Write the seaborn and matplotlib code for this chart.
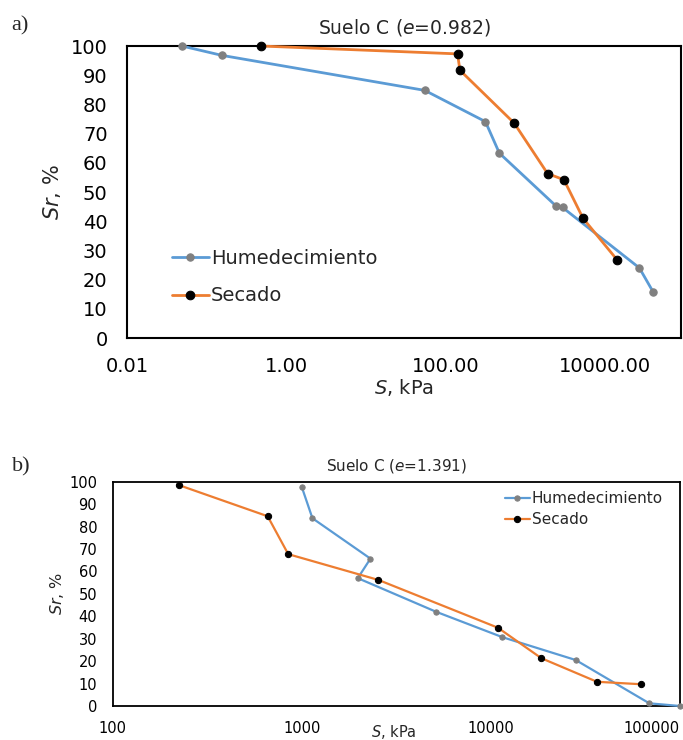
import numpy as np
import matplotlib
matplotlib.use("Agg")
import matplotlib.pyplot as plt
import matplotlib.ticker as mticker
import seaborn as sns

# ---------------- data ----------------
# Panel a) Suelo C (e=0.982)
hum_a_S = [0.049, 0.155, 55, 318, 476, 2450, 2960, 27300, 41000]
hum_a_Sr = [100, 96.8, 84.8, 74.1, 63.3, 45.2, 44.7, 24.0, 15.6]
sec_a_S = [0.48, 142, 152, 730, 1920, 3080, 5350, 14400]
sec_a_Sr = [100, 97.3, 91.7, 73.6, 56.3, 54.2, 41.0, 26.7]

# Panel b) Suelo C (e=1.391)
hum_b_S = [1000, 1140, 2310, 1980, 5140, 11500, 28100, 68800, 100000]
hum_b_Sr = [97.8, 83.7, 65.7, 57.0, 42.0, 30.7, 20.5, 1.2, 0]
sec_b_S = [224, 661, 849, 2545, 10900, 18500, 36400, 62300]
sec_b_Sr = [98.5, 84.6, 67.7, 56.2, 34.9, 21.3, 10.8, 9.7]

xt_a = [0.01, 1, 100, 10000]
xl_a = ["0.01", "1.00", "100.00", "10000.00"]
xt_b = [100, 1000, 10000, 100000]
xl_b = ["100", "1000", "10000", "100000"]
yt = [0, 10, 20, 30, 40, 50, 60, 70, 80, 90, 100]
yl = [str(v) for v in yt]

title_a = r"Suelo C ($\it{e}$=0.982)"
title_b = r"Suelo C ($\it{e}$=1.391)"
ylabel = r"$\it{Sr}$, %"
xlabel = r"$\it{S}$, kPa"
lab_h = "Humedecimiento"
lab_s = "Secado"

BLUE = "#5B9BD5"
ORANGE = "#ED7D31"
GRAY = "#808080"
BLACK = "#000000"

sns.set_style("white")
plt.rcParams["font.family"] = ["DejaVu Sans"]
plt.rcParams["mathtext.fontset"] = "dejavusans"

fig = plt.figure(figsize=(6.83, 7.4), dpi=100)
W, H = 683, 740


def axes_px(l, t, r, b):
    return fig.add_axes([l / W, 1 - b / H, (r - l) / W, (b - t) / H])


ax_a = axes_px(127, 46, 681, 338)
ax_b = axes_px(112.5, 481.7, 680, 706)


def style_axes(ax, xt, xl, xlim, fs, pad, lw_spine, maj_len, min_len):
    ax.set_xscale("log")
    ax.set_xlim(*xlim)
    ax.set_ylim(0, 100)
    ax.xaxis.set_major_locator(mticker.FixedLocator(xt))
    ax.xaxis.set_major_formatter(mticker.FixedFormatter(xl))
    ax.xaxis.set_minor_locator(mticker.LogLocator(base=10, subs=np.arange(1, 10), numticks=100))
    ax.xaxis.set_minor_formatter(mticker.NullFormatter())
    ax.yaxis.set_major_locator(mticker.FixedLocator(yt))
    ax.yaxis.set_major_formatter(mticker.FixedFormatter(yl))
    ax.yaxis.set_minor_locator(mticker.MultipleLocator(5))
    ax.tick_params(which="both", direction="in", color="black", width=lw_spine * 0.8)
    ax.tick_params(which="major", length=maj_len, labelsize=fs, pad=pad, labelcolor="black")
    ax.tick_params(which="minor", length=min_len)
    for s in ax.spines.values():
        s.set_visible(True)
        s.set_color("black")
        s.set_linewidth(lw_spine)
    ax.grid(False)
    ax.set_facecolor("white")


def draw(ax, hs, hy, ss, sy, lw, ms_h, ms_s):
    ax.set_xscale("log")
    sns.lineplot(x=hs, y=hy, ax=ax, sort=False, estimator=None, color=BLUE,
                 linewidth=lw, marker="o", markersize=ms_h, markerfacecolor=GRAY,
                 markeredgecolor=GRAY, label=lab_h, clip_on=False, zorder=3)
    sns.lineplot(x=ss, y=sy, ax=ax, sort=False, estimator=None, color=ORANGE,
                 linewidth=lw, marker="o", markersize=ms_s, markerfacecolor=BLACK,
                 markeredgecolor=BLACK, label=lab_s, clip_on=False, zorder=4)


# ---------------- panel a ----------------
draw(ax_a, hum_a_S, hum_a_Sr, sec_a_S, sec_a_Sr, 2.0, 5.3, 6.2)
style_axes(ax_a, xt_a, xl_a, (0.01, 9.1e4), 14, 14, 1.5, 6, 3.5)
ax_a.set_title(title_a, fontsize=13.5, pad=9)
ax_a.set_xlabel(xlabel, fontsize=14)
ax_a.xaxis.label.set_va("center")
ax_a.xaxis.set_label_coords(0.5, -0.171)
ax_a.set_ylabel(ylabel, fontsize=15)
ax_a.yaxis.label.set_va("center")
ax_a.yaxis.set_label_coords(-0.135, 0.5)
ax_a.legend(loc="upper left", bbox_to_anchor=(0.081, 0.305), frameon=False,
            fontsize=14, handlelength=1.9, handletextpad=0.1, labelspacing=0.95,
            borderpad=0, borderaxespad=0)

# ---------------- panel b ----------------
draw(ax_b, hum_b_S, hum_b_Sr, sec_b_S, sec_b_Sr, 1.6, 3.8, 4.5)
style_axes(ax_b, xt_b, xl_b, (100, 100000), 10.5, 11, 1.3, 4.5, 3)
ax_b.set_title(title_b, fontsize=11, pad=8)
ax_b.set_xlabel(xlabel, fontsize=10.5)
ax_b.xaxis.label.set_va("center")
ax_b.xaxis.set_label_coords(0.496, -0.117)
ax_b.set_ylabel(ylabel, fontsize=11.5)
ax_b.yaxis.label.set_va("center")
ax_b.yaxis.set_label_coords(-0.098, 0.5)
ax_b.legend(loc="upper left", bbox_to_anchor=(0.692, 0.958), frameon=False,
            fontsize=11, handlelength=1.6, handletextpad=0.15, labelspacing=0.4,
            borderpad=0, borderaxespad=0)
for t in ax_b.get_xticklabels():
    if t.get_text() == "100000":
        t.set_horizontalalignment("right")

# panel letters
fig.text(20 / W, 1 - 26 / H, "a)", fontsize=16, family="Liberation Serif", ha="center", va="center")
fig.text(21 / W, 1 - 467 / H, "b)", fontsize=16, family="Liberation Serif", ha="center", va="center")

fig.savefig("out.png", dpi=100, facecolor="white")
